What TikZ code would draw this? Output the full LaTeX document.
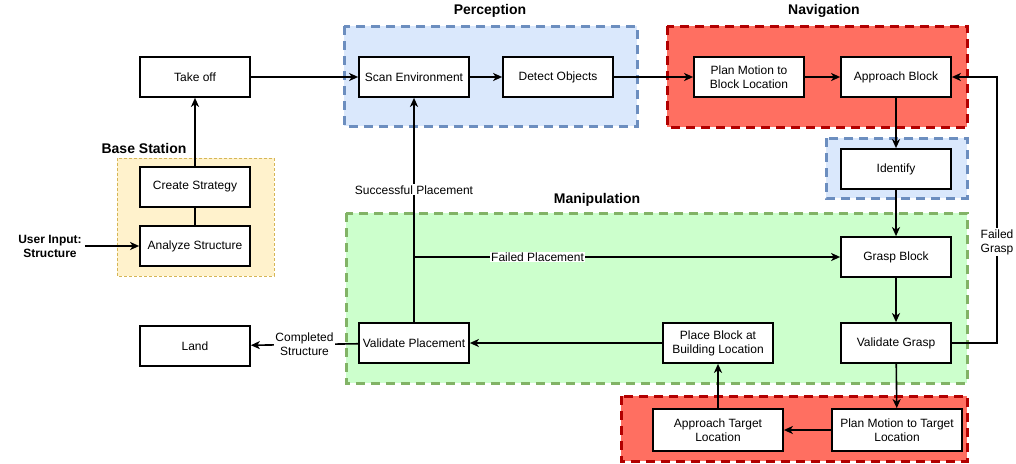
\documentclass[tikz,border=0pt]{standalone}
\usepackage{fontspec}
\setmainfont{Liberation Sans}
\usetikzlibrary{arrows.meta}

\definecolor{percfill}{HTML}{DAE8FC}
\definecolor{percline}{HTML}{6C8EBF}
\definecolor{navfill}{HTML}{FF6F61}
\definecolor{navline}{HTML}{B20000}
\definecolor{manipfill}{HTML}{CCFFCC}
\definecolor{manipline}{HTML}{82B366}
\definecolor{basefill}{HTML}{FFF2CC}
\definecolor{baseline}{HTML}{D6B656}

\begin{document}
\begin{tikzpicture}
    [
        x=1pt, y=-1pt,
        box/.style={draw, line width=1.7pt, fill=white, minimum width=110pt,
            minimum height=40pt, align=center, inner sep=2pt,
            font=\fontsize{12}{14}\selectfont},
        title/.style={font=\fontsize{14}{16}\selectfont\bfseries},
        lbl/.style={fill=white, inner sep=1pt, align=center,
            font=\fontsize{12}{14}\selectfont},
        flow/.style={line width=1.6pt,
            -{Stealth[length=9pt, width=8pt, inset=2.5pt]}},
        group/.style={line width=3pt, dash pattern=on 9pt off 6pt},
    ]
    \useasboundingbox (0, 0) rectangle (1016, 463);

    % groups
    \draw [group, fill=percfill, draw=percline] (344, 26) rectangle (637, 126);
    \draw [group, fill=navfill, draw=navline] (667, 26) rectangle (967, 127);
    \draw [group, fill=percfill, draw=percline] (826, 138) rectangle (967, 198);
    \draw [group, fill=manipfill, draw=manipline] (346, 213) rectangle (967, 383);
    \draw [group, fill=navfill, draw=navline] (621, 396) rectangle (967, 461);
    \draw [fill=basefill, draw=baseline, line width=0.8pt, dash pattern=on 3pt off 2pt]
        (117, 158) rectangle (274, 276);

    \node [title] (perctitle) at (490, 11) {Perception};
    \node [title] (navtitle) at (824, 11) {Navigation};
    \node [title] (manipt) at (597, 200) {Manipulation};
    \node [title] (basetitle) at (144, 148) {Base Station};

    % steps
    \node [box] (takeoff) at (195, 77) {Take off};
    \node [box] (strategy) at (195, 187) {Create Strategy};
    \node [box] (analyze) at (195, 246) {Analyze Structure};
    \node [box] (land) at (195, 346) {Land};
    \node [box] (scan) at (414, 77) {Scan Environment};
    \node [box] (detect) at (558, 77) {Detect Objects};
    \node [box] (planblock) at (749, 77) {Plan Motion to\\Block Location};
    \node [box] (approach) at (896, 77) {Approach Block};
    \node [box] (identify) at (896, 169) {Identify};
    \node [box] (grasp) at (896, 257) {Grasp Block};
    \node [box] (valgrasp) at (896, 343) {Validate Grasp};
    \node [box] (valplace) at (414, 343) {Validate Placement};
    \node [box] (place) at (718, 343) {Place Block at\\Building Location};
    \node [box, minimum width=130pt, minimum height=42pt] (apptarget) at (718, 430)
        {Approach Target\\Location};
    \node [box, minimum width=130pt, minimum height=42pt] (plantarget) at (897, 430)
        {Plan Motion to Target\\Location};
    \node [align=center, inner sep=3pt, font=\fontsize{12}{14}\selectfont\bfseries]
        (input) at (50, 246) {User Input:\\Structure};

    % connectors
    \draw [flow] (input) -- (analyze);
    \draw [line width=1.6pt] (analyze) -- (strategy);
    \draw [flow] (strategy) -- (takeoff);
    \draw [flow] (takeoff) -- (scan);
    \draw [flow] (scan) -- (detect);
    \draw [flow] (detect) -- (planblock);
    \draw [flow] (planblock) -- (approach);
    \draw [flow] (approach) -- (identify);
    \draw [flow] (identify) -- (grasp);
    \draw [flow] (grasp) -- (valgrasp);
    \draw [flow] (valgrasp.east) -- (997, 343) |- (approach.east)
        node [lbl, pos=0.19] (failgrasp) {Failed\\Grasp};
    \draw [flow] (valgrasp) -- (plantarget);
    \draw [flow] (plantarget) -- (apptarget);
    \draw [flow] (apptarget) -- (place);
    \draw [flow] (place) -- (valplace);
    \draw [flow] (valplace) -- (land)
        node [lbl, midway] (completed) {Completed\\Structure};
    \draw [flow] (valplace) -- (scan)
        node [lbl, pos=0.59] (success) {Successful Placement};
    \coordinate (split) at (valplace.north |- grasp.west);
    \draw [flow] (split) -- (grasp)
        node [lbl, pos=0.29] (failplace) {Failed Placement};

\end{tikzpicture}
\end{document}
